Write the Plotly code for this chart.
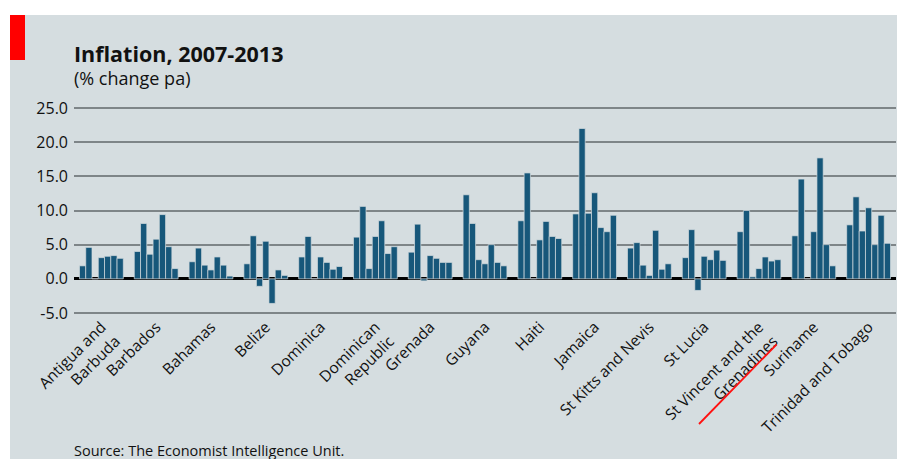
import plotly.graph_objects as go

countries = [
    "Antigua and<br>Barbuda", "Barbados", "Bahamas", "Belize", "Dominica",
    "Dominican<br>Republic", "Grenada", "Guyana", "Haiti", "Jamaica",
    "St Kitts and Nevis", "St Lucia", "St Vincent and the<br>Grenadines",
    "Suriname", "Trinidad and Tobago",
]
years = ["2007", "2008", "2009", "2010", "2011", "2012", "2013"]

infl_2007 = [1.9, 4.0, 2.5, 2.2, 3.2, 6.1, 3.9, 12.3, 8.5, 9.5, 4.5, 3.1, 6.9, 6.3, 7.9]
infl_2008 = [4.6, 8.1, 4.5, 6.3, 6.2, 10.6, 8.0, 8.1, 15.5, 22.0, 5.3, 7.2, 10.0, 14.6, 12.0]
infl_2009 = [0.0, 3.6, 2.0, -1.1, 0.0, 1.5, -0.3, 2.8, 0.0, 9.6, 2.0, -1.7, 0.3, 0.0, 7.0]
infl_2010 = [3.1, 5.8, 1.3, 5.5, 3.2, 6.2, 3.4, 2.2, 5.7, 12.6, 0.5, 3.3, 1.5, 6.9, 10.4]
infl_2011 = [3.3, 9.4, 3.2, -3.6, 2.4, 8.5, 3.0, 5.0, 8.4, 7.5, 7.1, 2.8, 3.2, 17.7, 5.0]
infl_2012 = [3.4, 4.7, 2.0, 1.3, 1.4, 3.7, 2.4, 2.4, 6.2, 6.9, 1.4, 4.2, 2.6, 5.0, 9.3]
infl_2013 = [3.0, 1.5, 0.4, 0.5, 1.8, 4.7, 2.4, 1.9, 5.9, 9.3, 2.2, 2.7, 2.8, 1.9, 5.2]

series = [infl_2007, infl_2008, infl_2009, infl_2010, infl_2011, infl_2012, infl_2013]

ytick_vals = [-5, 0, 5, 10, 15, 20, 25]
ytick_labels = ["-5.0", "0.0", "5.0", "10.0", "15.0", "20.0", "25.0"]

BG = "#d5dde0"
BAR = "#17577a"
GRID = "#7e8588"

# the page body has an 8px margin; the figure is sized to fill the rest of the window
OFF = 8
W, H = 905 - OFF, 459 - OFF
ML, MR, MT, MB = 74 - OFF, 9, 107 - OFF, 145
PW = W - ML - MR
PH = H - MT - MB


def px_x(x):
    """window pixel x -> paper fraction"""
    return (x - OFF - ML) / PW


def px_y(y):
    """window pixel y (from top) -> paper fraction"""
    return (H - MB - (y - OFF)) / PH


fig = go.Figure()
for yr, vals in zip(years, series):
    fig.add_trace(go.Bar(
        x=countries, y=vals, name=yr,
        marker=dict(color=BAR, line=dict(color=BG, width=0.7)),
    ))

shapes = [
    # white outer strips
    dict(type="rect", xref="paper", yref="paper", x0=px_x(0), x1=px_x(910),
         y0=px_y(15), y1=px_y(0), fillcolor="white", line=dict(width=0), layer="below"),
    dict(type="rect", xref="paper", yref="paper", x0=px_x(0), x1=px_x(10),
         y0=px_y(465), y1=px_y(0), fillcolor="white", line=dict(width=0), layer="below"),
    # red tag
    dict(type="rect", xref="paper", yref="paper", x0=px_x(10), x1=px_x(25),
         y0=px_y(60), y1=px_y(15), fillcolor="#ff0000", line=dict(width=0)),
    # red underline stroke
    dict(type="line", xref="paper", yref="paper", x0=px_x(776.7), y0=px_y(344.3),
         x1=px_x(699), y1=px_y(424), line=dict(color="#ff1010", width=1.8)),
]

annotations = [
    dict(text="<b>Inflation, 2007-2013</b>", xref="paper", yref="paper",
         x=px_x(72), y=px_y(37), xanchor="left", yanchor="top", showarrow=False,
         font=dict(family="Open Sans", size=21.5, color="#111111")),
    dict(text="(% change pa)", xref="paper", yref="paper",
         x=px_x(72), y=px_y(64), xanchor="left", yanchor="top", showarrow=False,
         font=dict(family="Open Sans", size=18, color="#111111")),
    dict(text="Source: The Economist Intelligence Unit.", xref="paper", yref="paper",
         x=px_x(72), y=px_y(439), xanchor="left", yanchor="top", showarrow=False,
         font=dict(family="Open Sans", size=14.5, color="#111111")),
]

fig.update_layout(
    width=W, height=H,
    margin=dict(l=ML, r=MR, t=MT, b=MB, pad=0),
    paper_bgcolor=BG, plot_bgcolor=BG,
    barmode="group", bargap=0.2, bargroupgap=0,
    showlegend=False,
    shapes=shapes, annotations=annotations,
    font=dict(family="Open Sans", color="#111111"),
)
fig.update_xaxes(
    showgrid=False, showline=False, ticks="", tickangle=-45,
    tickfont=dict(family="Open Sans", size=15.5, color="#111111"),
    automargin=False,
)
fig.update_yaxes(
    range=[-5.15, 25.15], tickvals=ytick_vals, ticktext=ytick_labels,
    showgrid=True, gridcolor=GRID, gridwidth=1.8,
    zeroline=True, zerolinecolor="#000000", zerolinewidth=2.6,
    showline=False, ticks="", ticklabelstandoff=5,
    tickfont=dict(family="Open Sans", size=16, color="#111111"),
    automargin=False,
)

fig.write_html("out.html")
